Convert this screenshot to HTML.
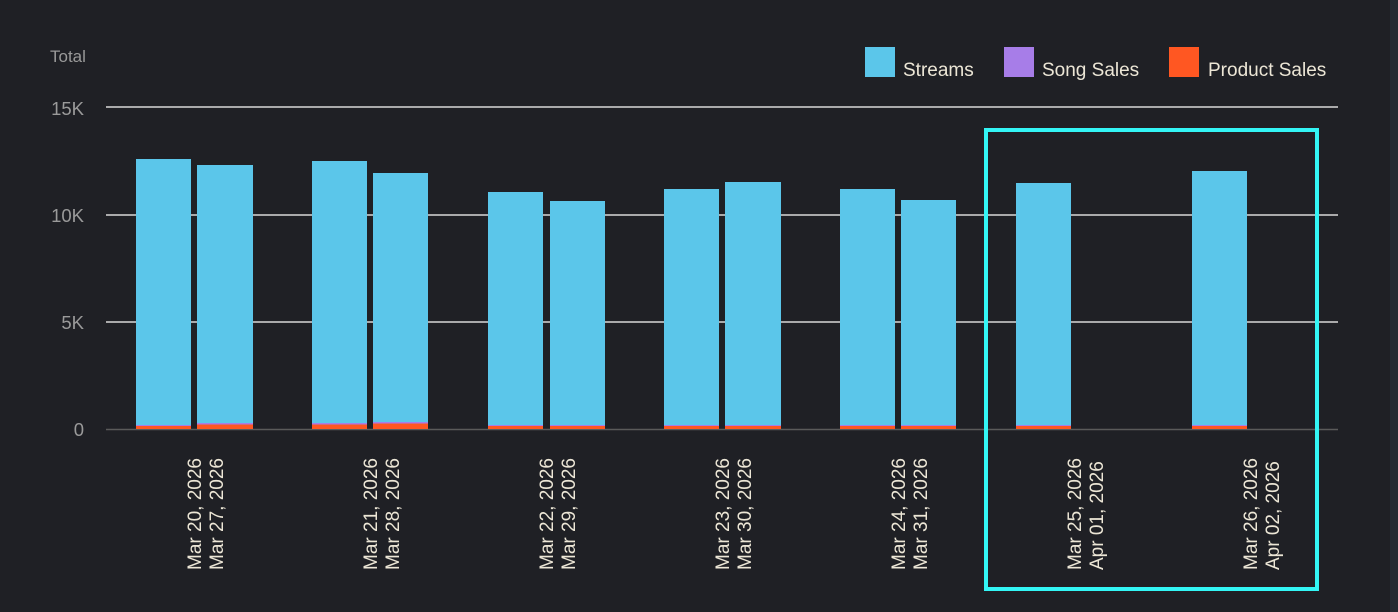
<!DOCTYPE html>
<html><head><meta charset="utf-8"><style>
html,body{margin:0;padding:0;background:#1f2025;}
svg{display:block;font-family:"Liberation Sans",sans-serif;}
</style></head><body>
<svg width="1398" height="612" xmlns="http://www.w3.org/2000/svg">
<rect width="1398" height="612" fill="#1f2025"/>
<rect x="1390" y="0" width="8" height="612" fill="#252a31"/>
<text x="50" y="62" font-size="17" fill="#999">Total</text>
<g font-size="18.5" fill="#9a9a9a" text-anchor="end">
<text x="84" y="115">15K</text>
<text x="84" y="222">10K</text>
<text x="84" y="329">5K</text>
<text x="84" y="436">0</text>
</g>
<g stroke="#d8d8d8" stroke-width="1.5">
<line x1="106" y1="107" x2="1338" y2="107"/>
<line x1="106" y1="215" x2="1338" y2="215"/>
<line x1="106" y1="322" x2="1338" y2="322"/>
</g>
<line x1="106" y1="429.5" x2="1338" y2="429.5" stroke="#5a5a5a" stroke-width="1.5"/>
<g>
<rect x="136" y="159" width="55" height="270" fill="#5bc6ea"/>
<rect x="197" y="165" width="56" height="264" fill="#5bc6ea"/>
<rect x="312" y="161" width="55" height="268" fill="#5bc6ea"/>
<rect x="373" y="173" width="55" height="256" fill="#5bc6ea"/>
<rect x="488" y="192" width="55" height="237" fill="#5bc6ea"/>
<rect x="550" y="201" width="55" height="228" fill="#5bc6ea"/>
<rect x="664" y="189" width="55" height="240" fill="#5bc6ea"/>
<rect x="725" y="182" width="56" height="247" fill="#5bc6ea"/>
<rect x="840" y="189" width="55" height="240" fill="#5bc6ea"/>
<rect x="901" y="200" width="55" height="229" fill="#5bc6ea"/>
<rect x="1016" y="183" width="55" height="246" fill="#5bc6ea"/>
<rect x="1192" y="171" width="55" height="258" fill="#5bc6ea"/>
</g>
<g fill="#a77de8">
<rect x="136" y="425" width="55" height="1.5"/>
<rect x="197" y="423" width="56" height="1.5"/>
<rect x="312" y="423" width="55" height="1.5"/>
<rect x="373" y="422" width="55" height="1.5"/>
<rect x="488" y="425" width="55" height="1"/>
<rect x="550" y="425" width="55" height="1"/>
<rect x="664" y="425" width="55" height="1"/>
<rect x="725" y="425" width="56" height="1"/>
<rect x="840" y="425" width="55" height="1"/>
<rect x="901" y="425" width="55" height="1"/>
<rect x="1016" y="425" width="55" height="1"/>
<rect x="1192" y="425" width="55" height="1"/>
</g>
<g fill="#ff5722">
<rect x="136" y="426" width="55" height="3"/>
<rect x="197" y="424.5" width="56" height="4.5"/>
<rect x="312" y="424.5" width="55" height="4.5"/>
<rect x="373" y="423.5" width="55" height="5.5"/>
<rect x="488" y="426" width="55" height="3"/>
<rect x="550" y="426" width="55" height="3"/>
<rect x="664" y="426" width="55" height="3"/>
<rect x="725" y="426" width="56" height="3"/>
<rect x="840" y="426" width="55" height="3"/>
<rect x="901" y="426" width="55" height="3"/>
<rect x="1016" y="426" width="55" height="3"/>
<rect x="1192" y="426" width="55" height="3"/>
</g>
<g font-size="19" fill="#ece6d6">
<text transform="translate(201,570) rotate(-90)">Mar 20, 2026</text>
<text transform="translate(223,570) rotate(-90)">Mar 27, 2026</text>
<text transform="translate(377,570) rotate(-90)">Mar 21, 2026</text>
<text transform="translate(399,570) rotate(-90)">Mar 28, 2026</text>
<text transform="translate(553,570) rotate(-90)">Mar 22, 2026</text>
<text transform="translate(575,570) rotate(-90)">Mar 29, 2026</text>
<text transform="translate(729,570) rotate(-90)">Mar 23, 2026</text>
<text transform="translate(751,570) rotate(-90)">Mar 30, 2026</text>
<text transform="translate(905,570) rotate(-90)">Mar 24, 2026</text>
<text transform="translate(927,570) rotate(-90)">Mar 31, 2026</text>
<text transform="translate(1081,570) rotate(-90)">Mar 25, 2026</text>
<text transform="translate(1103,570) rotate(-90)">Apr 01, 2026</text>
<text transform="translate(1257,570) rotate(-90)">Mar 26, 2026</text>
<text transform="translate(1279,570) rotate(-90)">Apr 02, 2026</text>
</g>
<rect x="986" y="130" width="331" height="459" fill="none" stroke="#33f5f5" stroke-width="4"/>
<rect x="865" y="47" width="30" height="30" fill="#5bc6ea"/>
<rect x="1004" y="47" width="30" height="30" fill="#a77de8"/>
<rect x="1169" y="47" width="30" height="30" fill="#ff5722"/>
<g font-size="19" fill="#ece6d6">
<text x="903" y="76">Streams</text>
<text x="1042" y="76">Song Sales</text>
<text x="1208" y="76">Product Sales</text>
</g>
</svg>
</body></html>
